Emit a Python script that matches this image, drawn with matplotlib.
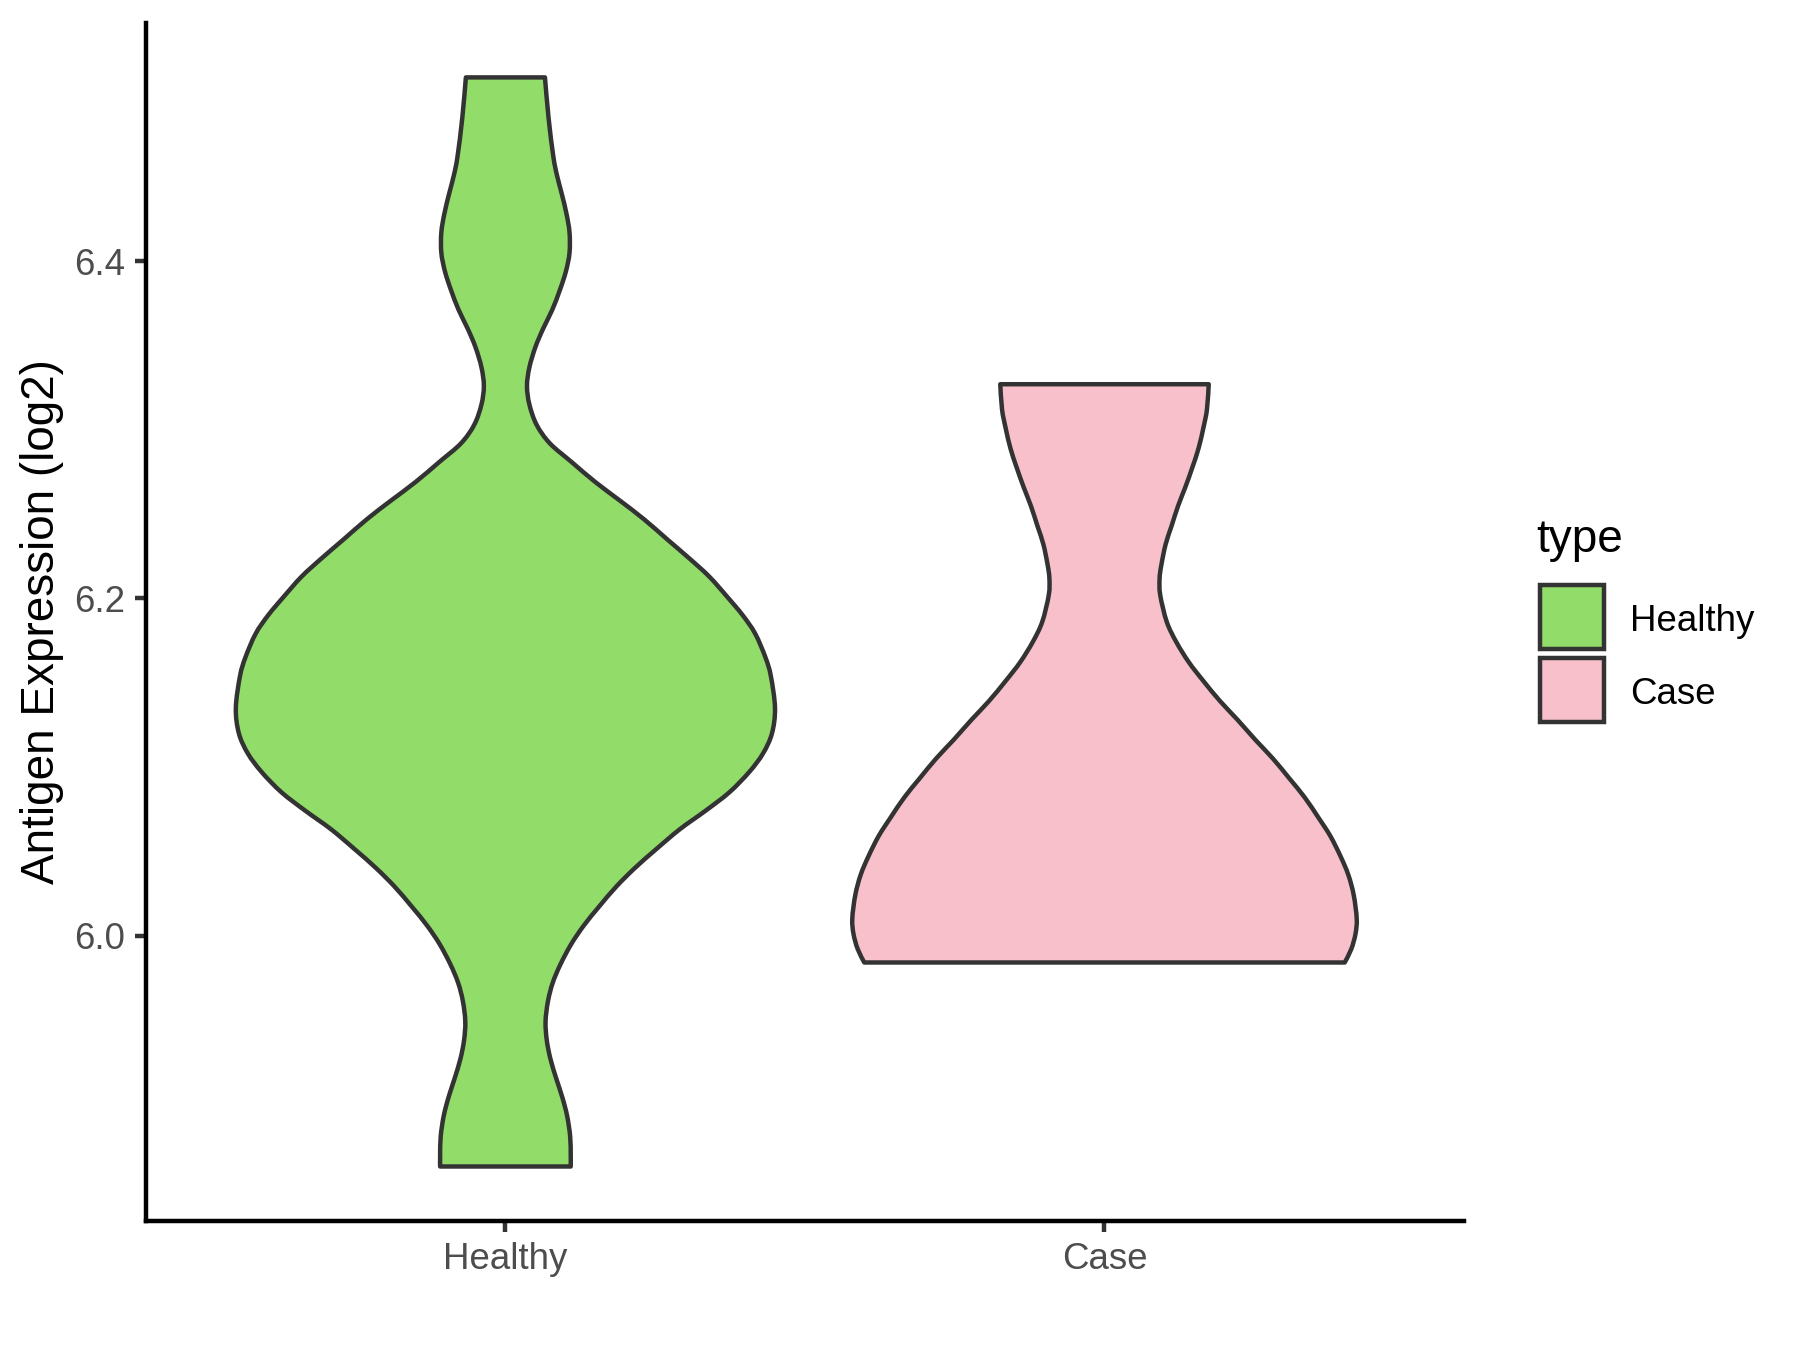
import numpy as np
import matplotlib
matplotlib.use("Agg")
import matplotlib.pyplot as plt
from matplotlib.patches import Rectangle, PathPatch
from matplotlib.path import Path

plt.rcParams['font.family'] = ['Liberation Sans', 'DejaVu Sans']

groups = ["Healthy", "Case"]
fill_colours = ["#92DC6A", "#F7C0CB"]
y_ticks = [6.0, 6.2, 6.4]

# violin outlines: expression level and half width (x units)
healthy_y = [6.509, 6.485, 6.462, 6.451, 6.440, 6.428, 6.417, 6.405, 6.394, 6.383,
             6.371, 6.360, 6.349, 6.337, 6.326, 6.315, 6.303, 6.292, 6.281, 6.269,
             6.258, 6.247, 6.235, 6.224, 6.213, 6.201, 6.190, 6.179, 6.165, 6.154,
             6.135, 6.120, 6.108, 6.097, 6.085, 6.074, 6.063, 6.051, 6.040, 6.029,
             6.017, 6.006, 5.995, 5.983, 5.972, 5.961, 5.949, 5.938, 5.927, 5.915,
             5.904, 5.893, 5.881, 5.870, 5.863]
healthy_halfwidth = [0.066, 0.072, 0.080, 0.086, 0.094, 0.102, 0.107, 0.107, 0.101, 0.091,
                     0.078, 0.063, 0.050, 0.040, 0.036, 0.040, 0.052, 0.074, 0.110, 0.150,
                     0.191, 0.231, 0.270, 0.306, 0.340, 0.370, 0.396, 0.417, 0.434, 0.443,
                     0.450, 0.445, 0.430, 0.407, 0.374, 0.334, 0.291, 0.251, 0.216, 0.185,
                     0.156, 0.131, 0.110, 0.092, 0.079, 0.071, 0.067, 0.069, 0.075, 0.085,
                     0.095, 0.103, 0.108, 0.109, 0.109]

case_y = [6.327, 6.312, 6.301, 6.289, 6.278, 6.266, 6.255, 6.243, 6.232, 6.220,
          6.212, 6.202, 6.186, 6.174, 6.162, 6.151, 6.139, 6.128, 6.116, 6.105,
          6.093, 6.082, 6.070, 6.059, 6.047, 6.036, 6.024, 6.010, 6.001, 5.992,
          5.984]
case_halfwidth = [0.174, 0.171, 0.165, 0.157, 0.147, 0.135, 0.123, 0.112, 0.102, 0.095,
                  0.092, 0.093, 0.104, 0.120, 0.141, 0.165, 0.193, 0.222, 0.252, 0.281,
                  0.309, 0.334, 0.357, 0.377, 0.394, 0.407, 0.416, 0.421, 0.419, 0.412,
                  0.401]

profiles = [(healthy_y, healthy_halfwidth), (case_y, case_halfwidth)]


def smooth_side(xs, ys):
    # Catmull-Rom through the read points, handed to matplotlib as Bezier segments
    pts = np.column_stack([xs, ys])
    padded = np.vstack([pts[0], pts, pts[-1]])
    verts, codes = [], []
    for k in range(len(pts) - 1):
        p0, p1, p2, p3 = padded[k], padded[k + 1], padded[k + 2], padded[k + 3]
        verts += [p1 + (p2 - p0) / 6, p2 - (p3 - p1) / 6, p2]
        codes += [Path.CURVE4] * 3
    return verts, codes


fig = plt.figure(figsize=(6, 4.5), dpi=300)
ax = fig.add_axes([0.0811, 0.0956, 0.7322, 0.8874])

for i, (ys, hws) in enumerate(profiles):
    pos = i + 1
    ys = np.array(ys)
    hws = np.array(hws)
    left_v, left_c = smooth_side(pos - hws, ys)
    right_v, right_c = smooth_side((pos + hws)[::-1], ys[::-1])
    verts = [(pos - hws[0], ys[0])] + left_v + [(pos + hws[-1], ys[-1])] + right_v + [(0, 0)]
    codes = [Path.MOVETO] + left_c + [Path.LINETO] + right_c + [Path.CLOSEPOLY]
    ax.add_patch(PathPatch(Path(verts, codes), facecolor=fill_colours[i],
                           edgecolor="#333333", linewidth=1.07, joinstyle="round"))

ax.set_xlim(0.4, 2.6)
ax.set_ylim(5.8307, 6.5413)
ax.set_xticks([1, 2])
ax.set_xticklabels(groups)
ax.set_yticks(y_ticks)
ax.set_yticklabels(["%.1f" % t for t in y_ticks])

for side in ["top", "right"]:
    ax.spines[side].set_visible(False)
for side in ["left", "bottom"]:
    ax.spines[side].set_linewidth(1.07)
    ax.spines[side].set_color("black")
    ax.spines[side].set_capstyle("projecting")

ax.tick_params(axis="both", length=2.75, width=1.07, color="#333333",
               labelsize=8.8, labelcolor="#4D4D4D", pad=2.2)
ax.set_ylabel("Antigen Expression (log2)", fontsize=11, color="black")
ax.yaxis.set_label_coords(-0.062, 0.5)

# legend drawn by hand, ggplot style
fig.text(1536 / 1800, 1 - 540 / 1350, "type", fontsize=11, ha="left", va="center")
key_top = [585, 658]
for i, g in enumerate(groups):
    fig.add_artist(Rectangle((1540 / 1800, 1 - (key_top[i] + 64) / 1350), 64 / 1800, 64 / 1350,
                             facecolor=fill_colours[i], edgecolor="#333333",
                             linewidth=1.07, transform=fig.transFigure))
    fig.text(1630 / 1800, 1 - (key_top[i] + 37) / 1350, g, fontsize=8.8,
             ha="left", va="center")

fig.savefig("out.png", dpi=300)
